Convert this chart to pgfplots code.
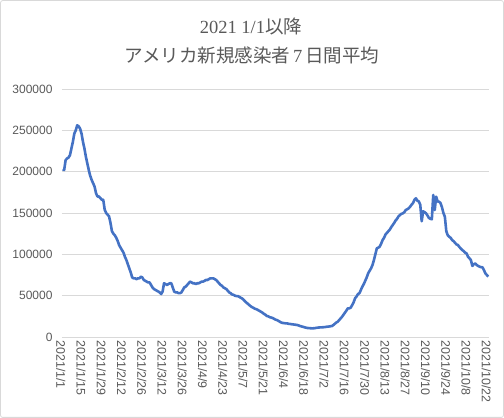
\documentclass[border=0pt]{standalone}
\usepackage{pgfplots}
\pgfplotsset{compat=1.18}
\usepackage{fontspec}
\setmainfont{Liberation Serif}
\setsansfont{Liberation Sans}
\newfontfamily\cjk{Noto Sans CJK JP}
\definecolor{lineblue}{HTML}{4472C4}
\definecolor{gridgray}{HTML}{D9D9D9}
\definecolor{textgray}{HTML}{595959}
\definecolor{framegray}{HTML}{D9D9D9}
\begin{document}
\begin{tikzpicture}
\useasboundingbox (0,0) rectangle (504pt,418pt);
\begin{axis}[
  at={(62pt,81pt)}, anchor=south west,
  scale only axis, width=427pt, height=248pt,
  xmin=-0.5, xmax=294.5, ymin=0, ymax=300000,
  ytick={0,50000,100000,150000,200000,250000,300000},
  scaled y ticks=false,
  /pgf/number format/.cd, fixed, 1000 sep={}, assume math mode=true,
  /pgfplots/.cd,
  xtick={0,14,28,42,56,70,84,98,112,126,140,154,168,182,196,210,224,238,252,266,280,294},
  xticklabels={2021/1/1,2021/1/15,2021/1/29,2021/2/12,2021/2/26,2021/3/12,2021/3/26,2021/4/9,2021/4/23,2021/5/7,2021/5/21,2021/6/4,2021/6/18,2021/7/2,2021/7/16,2021/7/30,2021/8/13,2021/8/27,2021/9/10,2021/9/24,2021/10/8,2021/10/22},
  xticklabel style={rotate=-90, anchor=west, font=\fontsize{12.4}{14}\selectfont\sffamily, text=textgray, yshift=-2pt},
  yticklabel style={font=\fontsize{12}{14}\selectfont\sffamily, text=textgray, xshift=-6pt},
  ymajorgrids, grid style={gridgray, line width=0.9pt},
  axis line style={draw=none}, major tick length=0pt,
]
\addplot[lineblue, line width=2.6pt, line join=round, mark=none] coordinates {
(0,203000)(1,202000)(2,214000)(3,216000)(4,217000)(5,220000)(6,228000)(7,236000)(8,246000)(9,250000)
(10,256000)(11,255000)(12,252000)(13,246000)(14,236000)(15,228000)(16,218000)(17,210000)(18,202000)(19,195000)
(20,190000)(21,186000)(22,182000)(23,174000)(24,170000)(25,170000)(26,168000)(27,166000)(28,166000)(29,154000)
(30,150000)(31,148000)(32,146000)(33,138000)(34,128000)(35,125000)(36,123000)(37,120000)(38,116000)(39,111000)
(40,108000)(41,105000)(42,102000)(43,97000)(44,93000)(45,88000)(46,83000)(47,78000)(48,72000)(49,71000)
(50,71000)(51,70000)(52,71000)(53,71000)(54,73000)(55,72000)(56,69000)(57,68000)(58,67000)(59,66000)
(60,66000)(61,63000)(62,60000)(63,58000)(64,57000)(65,56000)(66,55000)(67,54000)(68,52000)(69,55000)
(70,65000)(71,64000)(72,63000)(73,64000)(74,65000)(75,65000)(76,60000)(77,55000)(78,54000)(79,54000)
(80,53000)(81,53000)(82,54000)(83,57000)(84,60000)(85,61000)(86,63000)(87,65000)(88,67000)(89,66000)
(90,65000)(91,65000)(92,64000)(93,65000)(94,65000)(95,66000)(96,67000)(97,67000)(98,68000)(99,69000)
(100,69000)(101,70000)(102,71000)(103,71000)(104,71000)(105,70000)(106,69000)(107,67000)(108,65000)(109,63000)
(110,62000)(111,60000)(112,59000)(113,58000)(114,56000)(115,54000)(116,53000)(117,51500)(118,51000)(119,50000)
(120,49500)(121,49500)(122,48500)(123,47500)(124,46500)(125,45000)(126,43000)(127,41500)(128,40000)(129,38500)
(130,37000)(131,35900)(132,35000)(133,34000)(134,33500)(135,32500)(136,31500)(137,30500)(138,29400)(139,28000)
(140,27000)(141,25500)(142,25000)(143,24000)(144,23500)(145,23000)(146,22000)(147,21000)(148,20500)(149,19500)
(150,18500)(151,17500)(152,17000)(153,16800)(154,16500)(155,16500)(156,16000)(157,15800)(158,15500)(159,15300)
(160,15000)(161,14800)(162,14500)(163,14000)(164,13300)(165,12800)(166,12300)(167,11800)(168,11300)(169,10900)
(170,10800)(171,10600)(172,10500)(173,10500)(174,10700)(175,11000)(176,11300)(177,11500)(178,11600)(179,11700)
(180,11800)(181,12000)(182,12300)(183,12500)(184,12700)(185,13000)(186,13300)(187,14500)(188,16000)(189,17500)
(190,18500)(191,20500)(192,22500)(193,24500)(194,27000)(195,29500)(196,32000)(197,34700)(198,34700)(199,35500)
(200,38700)(201,42000)(202,47000)(203,49000)(204,52000)(205,53000)(206,57000)(207,60900)(208,64000)(209,68000)
(210,72000)(211,77000)(212,80000)(213,83000)(214,87000)(215,93000)(216,100000)(217,107300)(218,108000)(219,109300)
(220,113000)(221,117300)(222,120000)(223,124000)(224,126000)(225,128000)(226,130000)(227,133000)(228,135500)(229,138000)
(230,141000)(231,143000)(232,146000)(233,147600)(234,149000)(235,149600)(236,151000)(237,153600)(238,154500)(239,155700)
(240,157600)(241,160000)(242,162000)(243,166000)(244,167800)(245,165000)(246,164000)(247,160000)(248,140000)(249,152000)
(250,151000)(251,149600)(252,147000)(253,144000)(254,143000)(255,142400)(256,171800)(257,153600)(258,169700)(259,164000)
(260,163700)(261,162000)(262,157000)(263,150000)(264,145500)(265,128000)(266,123000)(267,121300)(268,120000)(269,117300)
(270,116000)(271,114000)(272,112000)(273,111300)(274,109000)(275,107000)(276,105200)(277,104000)(278,102000)(279,101200)
(280,97000)(281,95200)(282,93100)(283,86000)(284,88000)(285,89000)(286,87000)(287,86000)(288,85000)(289,84500)
(290,84300)(291,81000)(292,77000)(293,75000)(294,73000)
};
\end{axis}
\node[text=textgray, font=\fontsize{18.5}{22}\selectfont] at (251pt,392pt) {2021 1/1{\cjk 以降}};
\node[text=textgray, font=\fontsize{18.5}{22}\selectfont] at (252pt,363pt) {{\cjk アメリカ新規感染者}\,7\,{\cjk 日間平均}};
\draw[framegray, line width=0.8pt, rounded corners=2pt] (0.6pt,0.6pt) rectangle (503.4pt,417.4pt);
\end{tikzpicture}
\end{document}
